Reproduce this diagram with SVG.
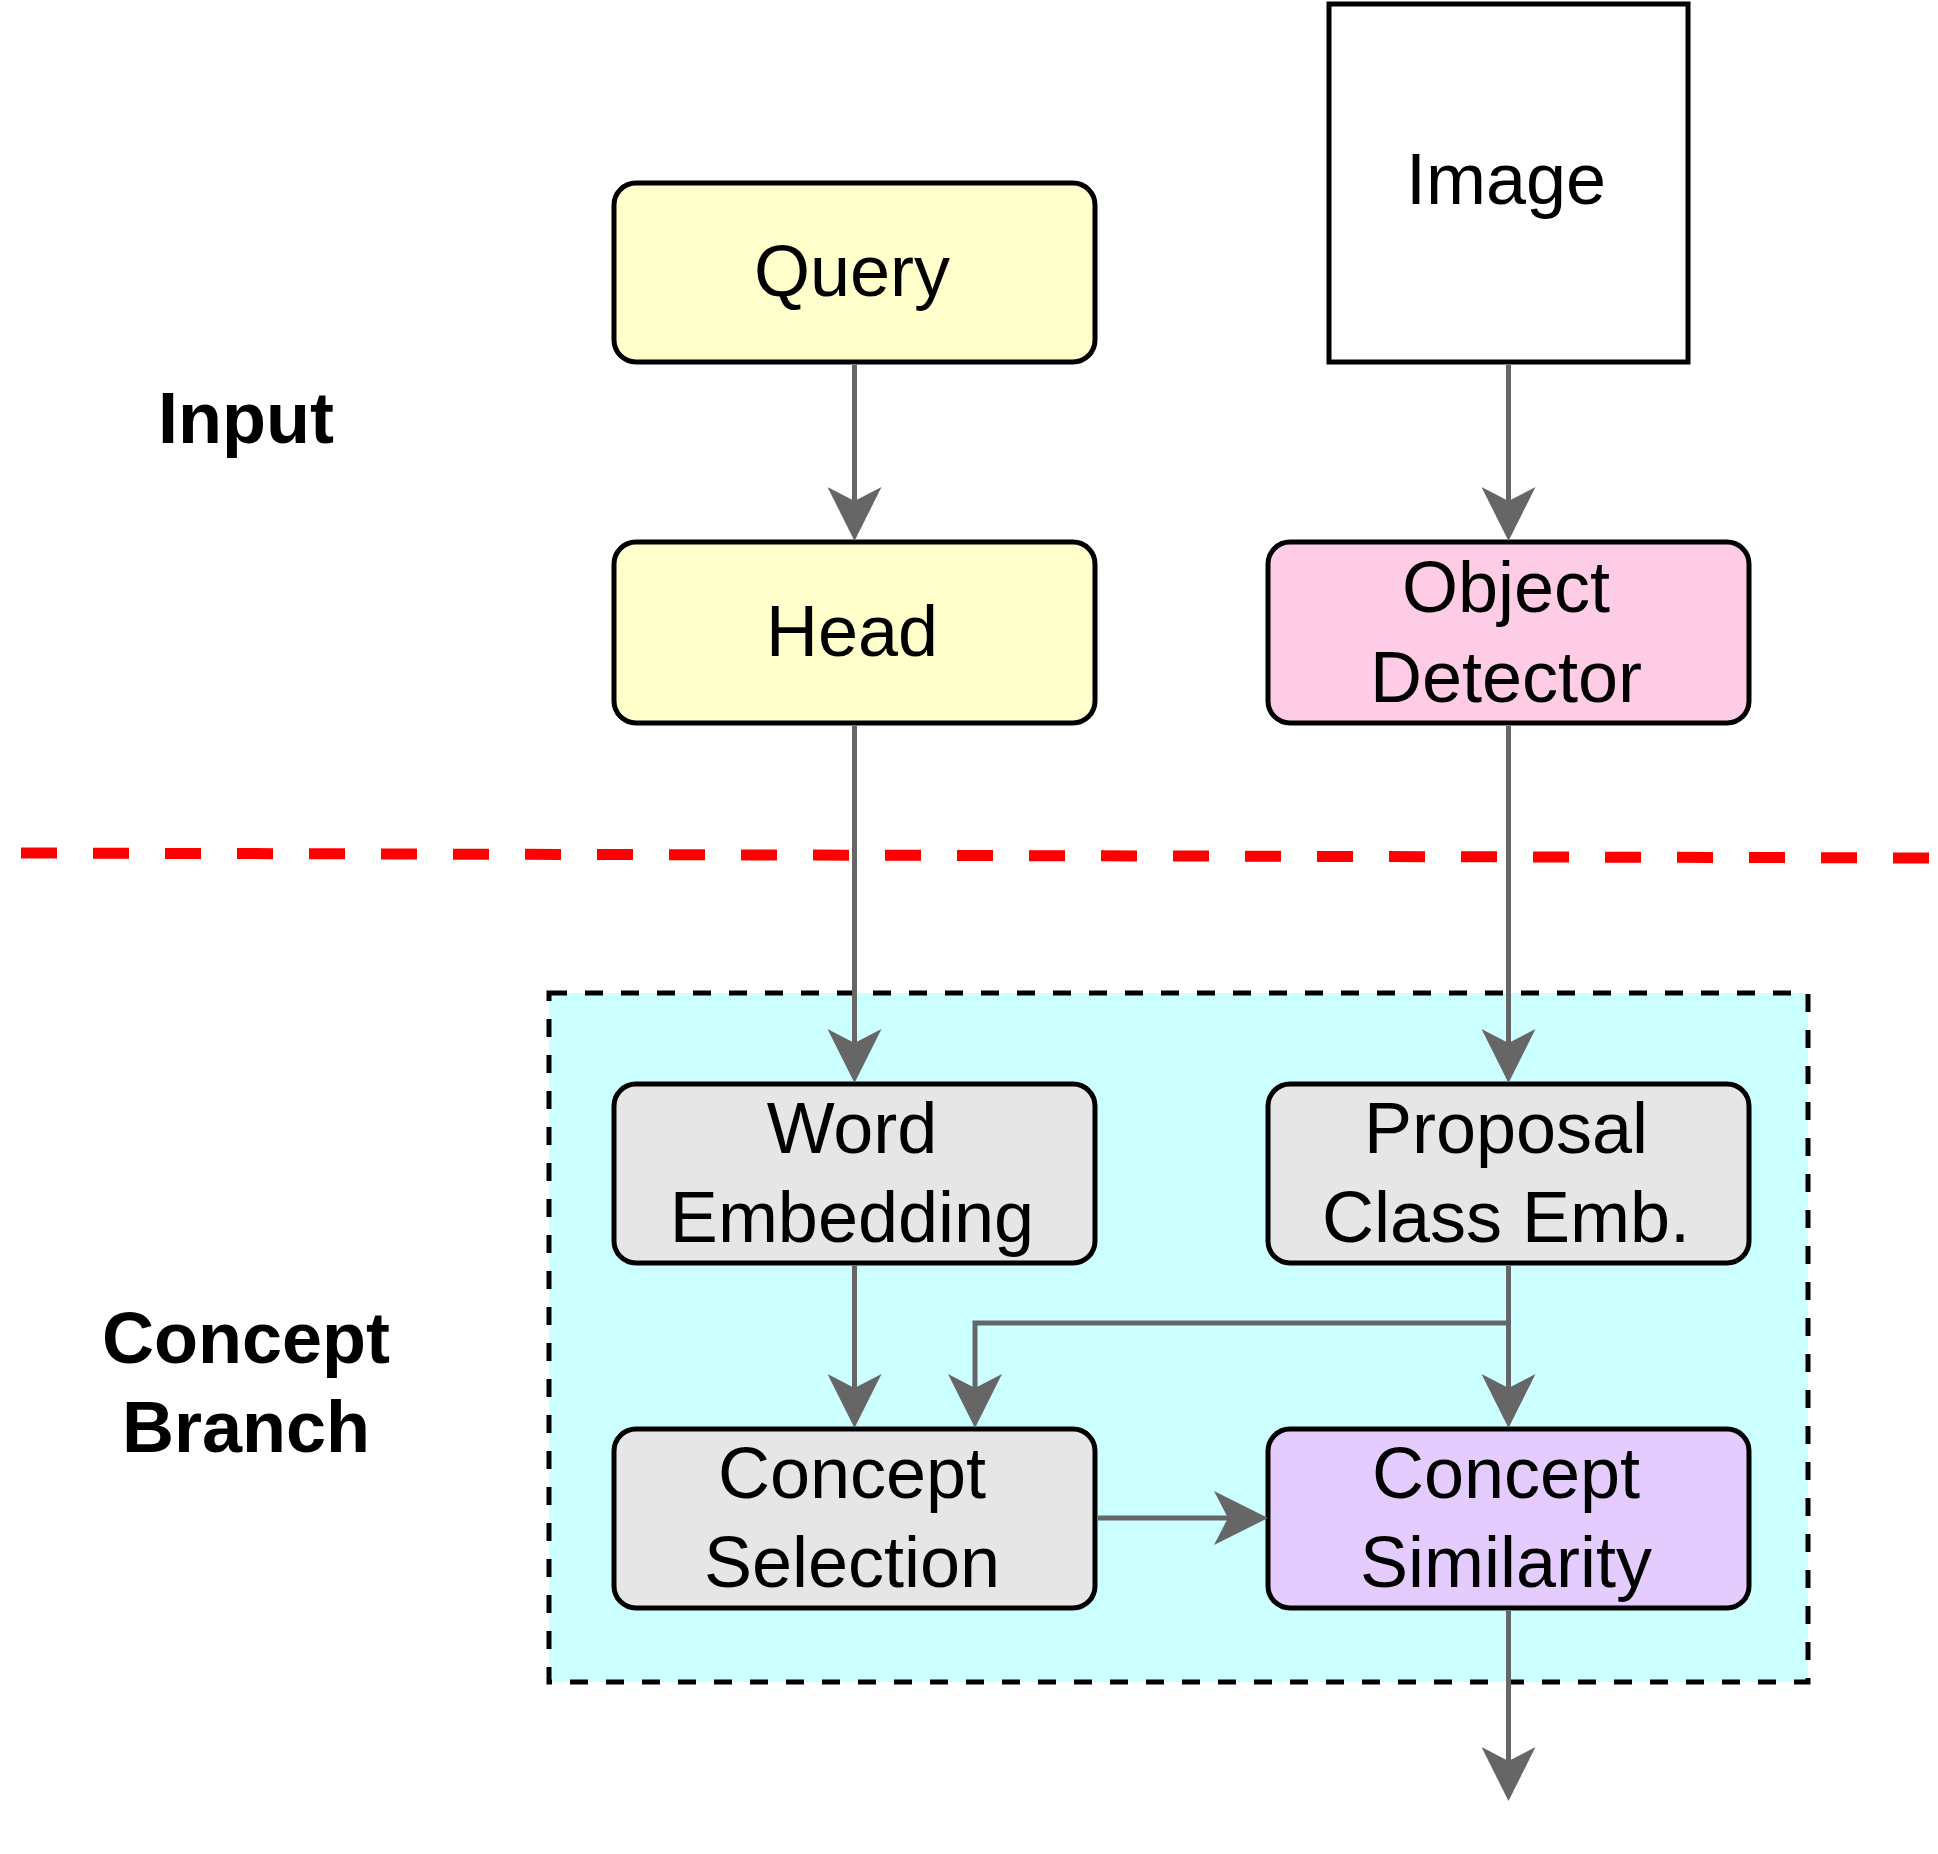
<svg xmlns="http://www.w3.org/2000/svg" width="1938" height="1854" viewBox="0 0 1938 1854">
<style>
.box{stroke:#000;stroke-width:5}
.lbl{font-family:"Liberation Sans",Arial,sans-serif;font-size:72px;fill:#000;text-anchor:middle}
.sec{font-family:"Liberation Sans",Arial,sans-serif;font-weight:bold;font-size:72px;fill:#000;text-anchor:middle}
.edge{fill:none;stroke:#666;stroke-width:5}
</style>
<defs>
<marker id="arr" markerUnits="userSpaceOnUse" viewBox="0 0 54 54" markerWidth="54" markerHeight="54" refX="14" refY="27" orient="auto">
<path d="M0,0 L54,27 L0,54 L14,27 Z" fill="#666"/>
</marker>
</defs>
<rect width="1938" height="1854" fill="#fff"/>
<g id="concept-branch-area">
<rect x="549" y="993" width="1259" height="689" fill="#CCFFFF" stroke="#000" stroke-width="5" stroke-dasharray="18 18"/>
</g>
<g id="divider">
<line x1="21" y1="853" x2="1938" y2="858" stroke="#FF0000" stroke-width="11" stroke-dasharray="36 36"/>
</g>
<g id="label-input"><text class="sec" x="246" y="443">Input</text></g>
<g id="label-concept-branch"><text class="sec" x="246" y="1363"><tspan x="246">Concept</tspan><tspan x="246" y="1452">Branch</tspan></text></g>
<g id="query"><rect class="box" x="614" y="183" width="481" height="179" rx="22" fill="#FFFFCC"/><text class="lbl" x="852" y="296">Query</text></g>
<g id="image"><rect class="box" x="1329" y="4" width="359" height="358" fill="#FFFFFF"/><text class="lbl" x="1506" y="204">Image</text></g>
<g id="head"><rect class="box" x="614" y="542" width="481" height="181" rx="22" fill="#FFFFCC"/><text class="lbl" x="852" y="656">Head</text></g>
<g id="object-detector"><rect class="box" x="1268" y="542" width="481" height="181" rx="22" fill="#FFCCE6"/><text class="lbl" x="1506" y="612"><tspan x="1506">Object</tspan><tspan x="1506" y="702">Detector</tspan></text></g>
<g id="word-embedding"><rect class="box" x="614" y="1084" width="481" height="179" rx="22" fill="#E6E6E6"/><text class="lbl" x="852" y="1153"><tspan x="852">Word</tspan><tspan x="852" y="1242">Embedding</tspan></text></g>
<g id="proposal-class-emb"><rect class="box" x="1268" y="1084" width="481" height="179" rx="22" fill="#E6E6E6"/><text class="lbl" x="1506" y="1153"><tspan x="1506">Proposal</tspan><tspan x="1506" y="1242">Class Emb.</tspan></text></g>
<g id="concept-selection"><rect class="box" x="614" y="1429" width="481" height="179" rx="22" fill="#E6E6E6"/><text class="lbl" x="852" y="1498"><tspan x="852">Concept</tspan><tspan x="852" y="1587">Selection</tspan></text></g>
<g id="concept-similarity"><rect class="box" x="1268" y="1429" width="481" height="179" rx="22" fill="#E5CCFF"/><text class="lbl" x="1506" y="1498"><tspan x="1506">Concept</tspan><tspan x="1506" y="1587">Similarity</tspan></text></g>
<g id="connectors">
<path class="edge" d="M854.5,365 V501" marker-end="url(#arr)"/>
<path class="edge" d="M1508.5,365 V501" marker-end="url(#arr)"/>
<path class="edge" d="M854.5,726 V1043" marker-end="url(#arr)"/>
<path class="edge" d="M1508.5,726 V1043" marker-end="url(#arr)"/>
<path class="edge" d="M854.5,1266 V1388" marker-end="url(#arr)"/>
<path class="edge" d="M1508.5,1266 V1388" marker-end="url(#arr)"/>
<path class="edge" d="M1508.5,1323 H975 V1388" marker-end="url(#arr)"/>
<path class="edge" d="M1098,1518 H1228" marker-end="url(#arr)"/>
<path class="edge" d="M1508.5,1611 V1761" marker-end="url(#arr)"/>
</g>
</svg>
